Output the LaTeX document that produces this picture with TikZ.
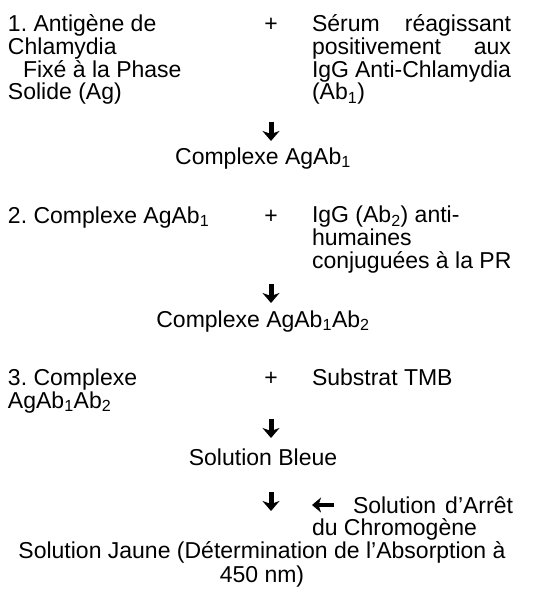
\documentclass[tikz,border=0pt]{standalone}
\usepackage{fontspec}
\setmainfont{Liberation Sans}
\usetikzlibrary{arrows.meta}
\frenchspacing
\tikzset{
  txt/.style={inner sep=0pt, outer sep=0pt, font=\fontsize{23}{22.8}\selectfont, anchor=base west},
  ctr/.style={inner sep=0pt, outer sep=0pt, font=\fontsize{23}{23.5}\selectfont, anchor=base, align=center},
  bigarrow/.style={line width=5pt, -{Stealth[length=10pt, width=17pt, inset=3pt]}},
  smallarrow/.style={line width=4pt, -{Stealth[length=9pt, width=15pt, inset=2.5pt]}}
}
\newcommand{\jline}[2]{\hbox to 199pt{#1\hfill #2}}
\begin{document}
\begin{tikzpicture}[x=1pt,y=-1pt]
\useasboundingbox (0,0) rectangle (546,607);
% step 1
\node[txt, align=left] (l1) at (8,100) {1. Antigène de\\Chlamydia\\\hspace*{15pt}Fixé à la Phase\\Solide (Ag)};
\node[txt, anchor=base] (p1) at (271,32) {+};
\node[txt, align=left] (r1) at (312,100) {\jline{Sérum}{réagissant}\\\jline{positivement}{aux}\\\jline{IgG}{Anti-Chlamydia}\\(Ab\textsubscript{1})};
\coordinate (a1s) at (271,122);
\coordinate (a1e) at (271,141);
\draw[bigarrow] (a1s) -- (a1e);
\node[ctr] (c1) at (263,164) {Complexe AgAb\textsubscript{1}};
% step 2
\node[txt] (l2) at (8,223) {2. Complexe AgAb\textsubscript{1}};
\node[txt, anchor=base] (p2) at (271,223) {+};
\node[txt, align=left] (r2) at (312,268) {IgG (Ab\textsubscript{2}) anti-\\humaines\\conjuguées à la PR};
\coordinate (a2s) at (271,284);
\coordinate (a2e) at (271,303);
\draw[bigarrow] (a2s) -- (a2e);
\node[ctr] (c2) at (263,327) {Complexe AgAb\textsubscript{1}Ab\textsubscript{2}};
% step 3
\node[txt, align=left] (l3) at (8,408) {3. Complexe\\AgAb\textsubscript{1}Ab\textsubscript{2}};
\node[txt, anchor=base] (p3) at (271,385) {+};
\node[txt] (r3) at (312,385) {Substrat TMB};
\coordinate (a3s) at (271,419);
\coordinate (a3e) at (271,438);
\draw[bigarrow] (a3s) -- (a3e);
\node[ctr] (c3) at (263,465) {Solution Bleue};
% step 4
\coordinate (a4s) at (271,492);
\coordinate (a4e) at (271,511);
\draw[bigarrow] (a4s) -- (a4e);
\coordinate (b4s) at (334,505);
\coordinate (b4e) at (312,505);
\draw[smallarrow] (b4s) -- (b4e);
\node[txt] (s4) at (353,513) {\hbox to 160pt{Solution\hfill d’Arrêt}};
\node[txt] (s4b) at (312,535) {du Chromogène};
\node[ctr] (c4) at (262,582) {Solution Jaune (Détermination de l’Absorption à\\450 nm)};
\end{tikzpicture}
\end{document}
